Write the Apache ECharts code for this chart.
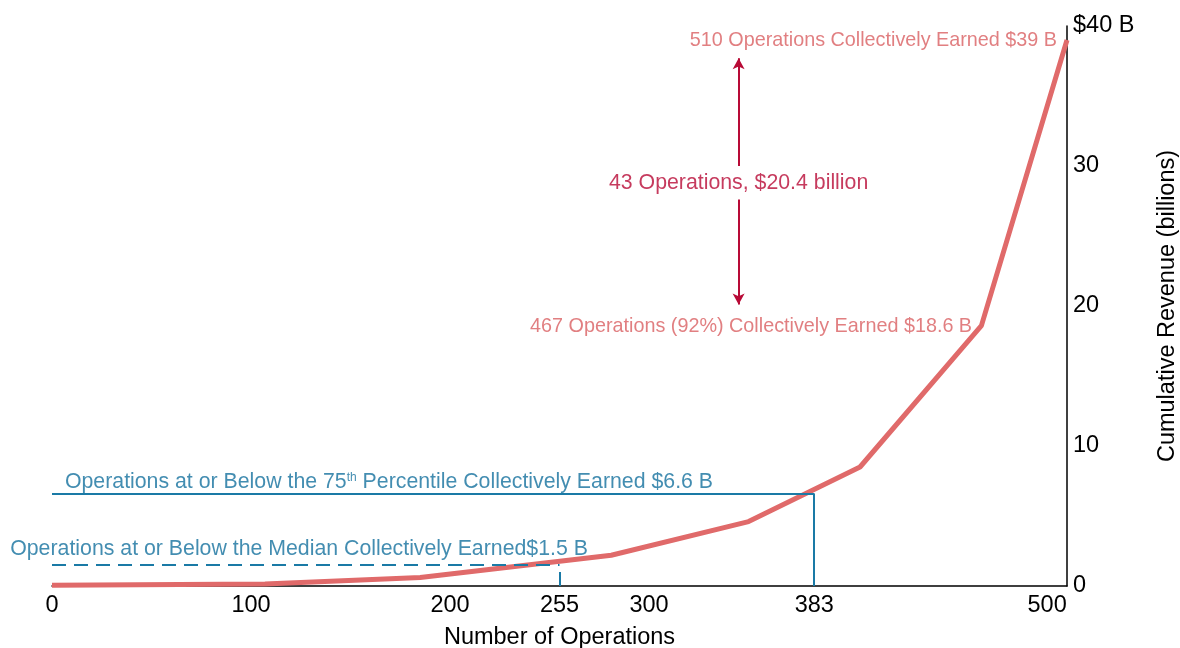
<!DOCTYPE html>
<html>
<head>
<meta charset="utf-8">
<script src="https://cdn.jsdelivr.net/npm/echarts@6/dist/echarts.min.js"></script>
<style>
    html, body { margin: 0; padding: 0; background: #fff; }
    #chart { width: 1180px; height: 648px; }
</style>
</head>
<body>
<div id="chart"></div>
<script>
// cumulative revenue curve, [operations, billions]
const curve = [
    [0, 0.05], [107, 0.15], [185, 0.6], [281, 2.2],
    [350, 4.6], [406, 8.5], [467, 18.6], [510, 39]
];
const xTicks = [0, 100, 200, 255, 300, 383, 500];
const medianOps = 255;
const medianRev = 1.5;
const p75Ops = 383;
const p75Rev = 6.6;
const gapOps = 345;        // x where the 43-operations arrow sits
const gapLow = 20.1;
const gapHigh = 37.7;

const blue = '#1a7aa6';
const blueText = '#14719e';
const red = '#e06a6a';
const redText = '#da5f62';
const crimson = '#b80a36';
const font = 'Liberation Sans, Arial, sans-serif';

let chart = echarts.init(document.getElementById('chart'));

let option = {
    animation: false,
    grid: { left: 52, right: 113, top: 26, bottom: 62, outerBoundsMode: 'none' },
    xAxis: {
        type: 'value',
        min: 0,
        max: 510,
        name: 'Number of Operations',
        nameLocation: 'middle',
        nameGap: 40,
        nameTextStyle: { color: '#000', fontSize: 23.5, fontFamily: font },
        splitLine: { show: false },
        axisLine: { show: true, onZero: false, lineStyle: { color: '#000', width: 1.5 } },
        axisTick: { show: false },
        axisLabel: {
            customValues: xTicks,
            color: '#000',
            fontSize: 23.5,
            fontFamily: font,
            margin: 8
        }
    },
    yAxis: {
        type: 'value',
        position: 'right',
        min: 0,
        max: 40,
        interval: 10,
        name: 'Cumulative Revenue (billions)',
        nameLocation: 'middle',
        nameRotate: 90,
        nameGap: 89,
        nameTextStyle: { color: '#000', fontSize: 23.5, fontFamily: font },
        splitLine: { show: false },
        axisLine: { show: true, onZero: false, lineStyle: { color: '#000', width: 1.5 } },
        axisTick: { show: false },
        axisLabel: {
            color: '#000',
            fontSize: 23.5,
            fontFamily: font,
            margin: 6,
            formatter: v => v === 40 ? '$40 B' : String(v)
        }
    },
    series: [
        {
            // reference lines for median and 75th percentile
            type: 'line',
            data: [],
            z: 1,
            markLine: {
                silent: true,
                symbol: 'none',
                label: { show: false },
                data: [
                    [{ coord: [0, medianRev], lineStyle: { type: [14, 8], color: blue, width: 2 } },
                     { coord: [medianOps, medianRev] }],
                    [{ coord: [medianOps, 0], lineStyle: { type: 'solid', color: blue, width: 2 } },
                     { coord: [medianOps, 1.0] }],
                    [{ coord: [0, p75Rev], lineStyle: { type: 'solid', color: blue, width: 2 } },
                     { coord: [p75Ops, p75Rev] }],
                    [{ coord: [p75Ops, 0], lineStyle: { type: 'solid', color: blue, width: 2 } },
                     { coord: [p75Ops, p75Rev] }]
                ]
            }
        },
        {
            type: 'line',
            data: curve,
            showSymbol: false,
            z: 3,
            lineStyle: { color: red, width: 5 },
            itemStyle: { color: red }
        },
        {
            // double arrow for the top 43 operations
            type: 'line',
            data: [],
            z: 2,
            markLine: {
                silent: true,
                symbol: ['none', 'arrow'],
                symbolSize: [9, 11],
                label: { show: false },
                lineStyle: { type: 'solid', color: crimson, width: 2 },
                data: [
                    [{ coord: [gapOps, 30.0] }, { coord: [gapOps, gapHigh] }],
                    [{ coord: [gapOps, 27.6] }, { coord: [gapOps, gapLow] }]
                ]
            }
        },
        {
            // text annotations
            type: 'scatter',
            symbolSize: 0,
            clip: false,
            z: 4,
            label: { show: true, fontFamily: font },
            data: [
                {
                    value: [505, 38.95],
                    label: { formatter: '510 Operations Collectively Earned $39 B', align: 'right',
                             position: 'inside', color: redText, fontSize: 19.8 }
                },
                {
                    value: [462.3, 18.5],
                    label: { formatter: '467 Operations (92%) Collectively Earned $18.6 B', align: 'right',
                             position: 'inside', color: redText, fontSize: 19.8 }
                },
                {
                    value: [gapOps, 28.8],
                    label: { formatter: '43 Operations, $20.4 billion', align: 'center',
                             position: 'inside', color: crimson, fontSize: 21.3 }
                },
                {
                    value: [6.5, 7.45],
                    label: {
                        formatter: 'Operations at or Below the 75{sup|th} Percentile Collectively Earned $6.6 B',
                        align: 'left', position: 'inside', color: blueText, fontSize: 21.3,
                        rich: { sup: { fontSize: 12, verticalAlign: 'top', color: blueText, fontFamily: font } }
                    }
                },
                {
                    value: [-21, 2.6],
                    label: { formatter: 'Operations at or Below the Median Collectively Earned$1.5 B', align: 'left',
                             position: 'inside', color: blueText, fontSize: 21.3 }
                }
            ]
        }
    ]
};

chart.setOption(option);
</script>
</body>
</html>
